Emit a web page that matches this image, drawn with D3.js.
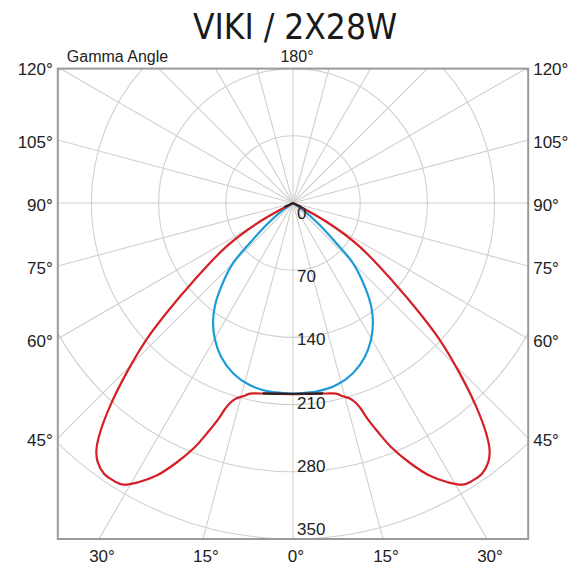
<!DOCTYPE html>
<html>
<head>
<meta charset="utf-8">
<script src="https://cdn.jsdelivr.net/npm/d3@7"></script>
<style>
  body { margin: 0; background: #fff; }
  text { font-family: "Liberation Sans", Arial, sans-serif; fill: #222; }
</style>
</head>
<body>
<div id="chart"></div>
<script>
// gamma angles (deg from nadir) and intensities (cd/klm), one half plane each
var blueGamma = [0, 2, 7, 13.4, 19.4, 25, 29.7, 33.6, 37.1, 40.6, 44.9, 47.1, 50.5, 55, 60];
var blueCd    = [198.5, 198.3, 198, 195, 188, 177, 164, 150.5, 135, 115, 88.5, 62, 36, 13, 0];

var redGamma = [0, 5, 10, 12.7, 14.5, 16.25, 17.48, 18.27, 18.99, 20.36, 21.88, 24.23, 26.65, 28.9, 31.1,
                32.8, 34.9, 37, 38.5, 40, 42, 44.4, 47, 49, 51.8, 56.8, 60.7, 65];
var redCd    = [199, 199.5, 201.5, 203.5, 208, 212.1, 218.4, 226, 236.9, 254.5, 273.9, 297, 318, 332, 342.6,
                344.4, 344, 338, 329, 313, 285, 248, 209, 175, 133, 83, 40, 0];

// short black pieces where the planes overlap
var blackGamma = [0, 5, 9];
var blackCd    = [198.7, 199.4, 200.8];
var hatGamma = [0, 64];
var hatCd    = [0, 10];

var ringValues   = [70, 140, 210, 280, 350];
var radialLabels = [0, 70, 140, 210, 280, 350];
var sideTicks    = [120, 105, 90, 75, 60, 45];
var bottomTicks  = [-30, -15, 0, 15, 30];
var spokeStep    = 15;

var width = 582, height = 566;
var cx = 293, cy = 203;

var r = d3.scaleLinear().domain([0, 350]).range([0, 336]);
var labelY = d3.scaleLinear().domain([0, 350]).range([cy + 16, cy + 332]);

var box = {
  left: cx - r(245), right: cx + r(245),
  top: cy - r(140), bottom: cy + r(350)
};

var svg = d3.select('#chart').append('svg')
  .attr('width', width)
  .attr('height', height);

svg.append('defs').append('clipPath')
  .attr('id', 'clip')
  .append('rect')
  .attr('x', box.left).attr('y', box.top)
  .attr('width', box.right - box.left)
  .attr('height', box.bottom - box.top);

var grid = svg.append('g').attr('clip-path', 'url(#clip)');

grid.selectAll('circle.ring')
  .data(ringValues)
  .enter().append('circle')
  .attr('class', 'ring')
  .attr('cx', cx).attr('cy', cy)
  .attr('r', function(d) { return r(d); })
  .attr('fill', 'none')
  .attr('stroke', '#d0d0d0')
  .attr('stroke-width', 1.1);

grid.selectAll('line.spoke')
  .data(d3.range(0, 360, spokeStep))
  .enter().append('line')
  .attr('class', 'spoke')
  .attr('x1', cx).attr('y1', cy)
  .attr('x2', function(d) { return cx + 700 * Math.sin(d * Math.PI / 180); })
  .attr('y2', function(d) { return cy + 700 * Math.cos(d * Math.PI / 180); })
  .attr('stroke', '#d0d0d0')
  .attr('stroke-width', 1.1);

// curves
function mirrored(gammas, vals) {
  var pts = [];
  for (var i = gammas.length - 1; i > 0; i--) pts.push({a: -gammas[i], v: vals[i]});
  for (var j = 0; j < gammas.length; j++) pts.push({a: gammas[j], v: vals[j]});
  return pts;
}

var radial = d3.lineRadial()
  .angle(function(d) { return Math.PI - d.a * Math.PI / 180; })
  .radius(function(d) { return r(d.v); })
  .curve(d3.curveCatmullRom.alpha(0.5));

var plot = svg.append('g')
  .attr('transform', 'translate(' + cx + ',' + cy + ')');

plot.append('path')
  .attr('d', radial(mirrored(blueGamma, blueCd)))
  .attr('fill', 'none')
  .attr('stroke', '#1c9bd7')
  .attr('stroke-width', 2.2);

plot.append('path')
  .attr('d', radial(mirrored(redGamma, redCd)))
  .attr('fill', 'none')
  .attr('stroke', '#d51f26')
  .attr('stroke-width', 2.2);

plot.append('path')
  .attr('d', radial(mirrored(blackGamma, blackCd)))
  .attr('fill', 'none')
  .attr('stroke', '#222')
  .attr('stroke-width', 2.2);

plot.append('path')
  .attr('d', radial.curve(d3.curveLinear)(mirrored(hatGamma, hatCd)))
  .attr('fill', 'none')
  .attr('stroke', '#222')
  .attr('stroke-width', 2);

// frame
svg.append('rect')
  .attr('x', box.left).attr('y', box.top)
  .attr('width', box.right - box.left)
  .attr('height', box.bottom - box.top)
  .attr('fill', 'none')
  .attr('stroke', '#9a9a9a')
  .attr('stroke-width', 2);

// radial value labels
svg.selectAll('text.rlab')
  .data(radialLabels)
  .enter().append('text')
  .attr('class', 'rlab')
  .attr('x', cx + 4)
  .attr('y', function(d) { return labelY(d); })
  .attr('font-size', 17)
  .text(function(d) { return d; });

// side gamma labels, where the spokes meet the frame edges
function sideY(g) {
  var a = g * Math.PI / 180;
  return cy + (cx - box.left) / Math.sin(a) * Math.cos(a);
}
svg.selectAll('text.lt')
  .data(sideTicks)
  .enter().append('text')
  .attr('class', 'lt')
  .attr('x', box.left - 5)
  .attr('y', function(d) { return sideY(d) + 8; })
  .attr('text-anchor', 'end')
  .attr('font-size', 17)
  .text(function(d) { return d + '°'; });

svg.selectAll('text.rt')
  .data(sideTicks)
  .enter().append('text')
  .attr('class', 'rt')
  .attr('x', box.right + 5)
  .attr('y', function(d) { return sideY(d) + 8; })
  .attr('font-size', 17)
  .text(function(d) { return d + '°'; });

svg.selectAll('text.bt')
  .data(bottomTicks)
  .enter().append('text')
  .attr('class', 'bt')
  .attr('x', function(d) { return cx + (box.bottom - cy) * Math.tan(d * Math.PI / 180) + 3; })
  .attr('y', box.bottom + 23)
  .attr('text-anchor', 'middle')
  .attr('font-size', 17)
  .text(function(d) { return Math.abs(d) + '°'; });

svg.append('text')
  .attr('x', cx + 4).attr('y', box.top - 7)
  .attr('text-anchor', 'middle')
  .attr('font-size', 16)
  .text('180°');

svg.append('text')
  .attr('x', box.left + 9).attr('y', box.top - 7)
  .attr('font-size', 16)
  .text('Gamma Angle');

svg.append('text')
  .attr('x', width / 2 + 4).attr('y', 39)
  .attr('text-anchor', 'middle')
  .attr('font-size', 35)
  .style('font-family', '"Liberation Sans Narrow", "DejaVu Sans Condensed", sans-serif')
  .style('fill', '#1a1a1a')
  .text('VIKI / 2X28W');
</script>
</body>
</html>
